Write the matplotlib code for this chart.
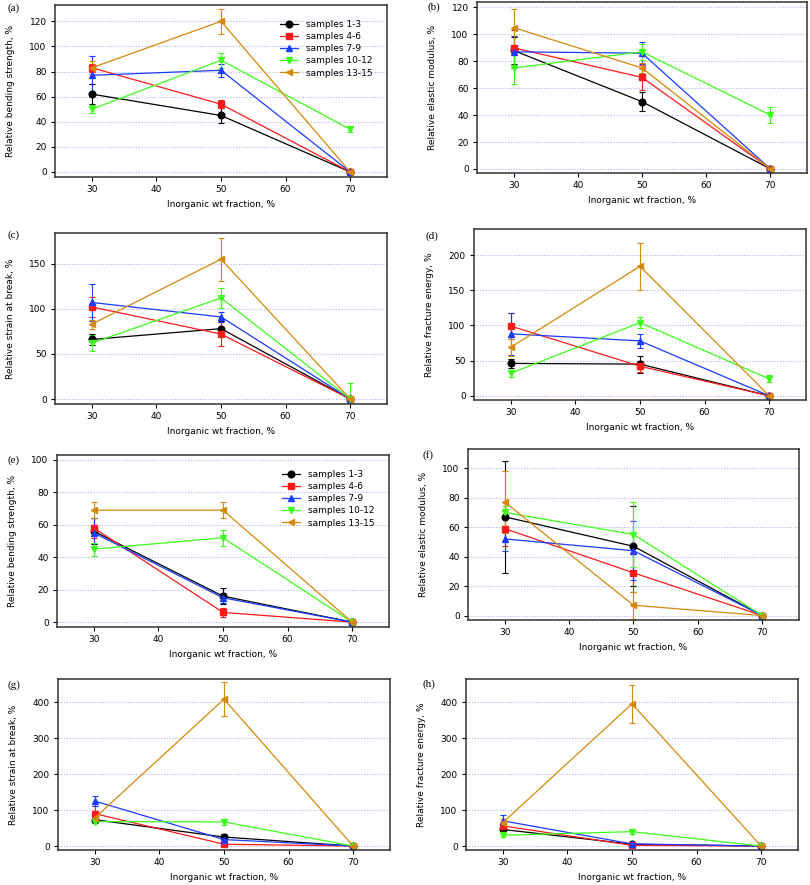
import matplotlib
matplotlib.use('Agg')
import matplotlib.pyplot as plt
from matplotlib.lines import Line2D

W, H = 810, 885

x = [30, 50, 70]
series_names = ['samples 1-3', 'samples 4-6', 'samples 7-9', 'samples 10-12', 'samples 13-15']
colors = ['#000000', '#ff1a1a', '#1a3cff', '#3cff1a', '#d4890a']
markers = ['o', 's', '^', 'v', '<']

# (a) bending strength
a_vals = [[62, 45, 0], [83, 54, 0], [77, 81, 0], [50, 89, 34], [83, 120, 0]]
a_errs = [[8, 6, 0], [3, 3, 0], [15, 5, 0], [3, 6, 2], [5, 10, 0]]
# (b) elastic modulus
b_vals = [[88, 50, 0], [90, 68, 0], [87, 86, 0], [75, 87, 40], [105, 75, 0]]
b_errs = [[10, 7, 0], [13, 9, 0], [12, 8, 0], [12, 6, 6], [14, 4, 0]]
# (c) strain at break
c_vals = [[66, 78, 0], [102, 72, 0], [107, 91, 0], [62, 112, 0], [83, 155, 0]]
c_errs = [[6, 8, 0], [11, 13, 0], [20, 6, 0], [9, 11, 18], [5, 24, 0]]
# (d) fracture energy
d_vals = [[46, 45, 0], [99, 42, 0], [88, 78, 0], [32, 104, 24], [69, 184, 0]]
d_errs = [[6, 12, 0], [18, 8, 0], [30, 10, 0], [5, 8, 5], [12, 33, 0]]
# (e) bending strength
e_vals = [[56, 16, 0], [58, 6, 0], [55, 15, 0], [45, 52, 0], [69, 69, 0]]
e_errs = [[8, 5, 0], [6, 3, 0], [9, 3, 0], [4, 5, 0], [5, 5, 0]]
# (f) elastic modulus
f_vals = [[67, 47, 0], [59, 29, 0], [52, 44, 0], [70, 55, 0], [77, 7, 0]]
f_errs = [[38, 27, 0], [12, 13, 0], [8, 20, 0], [4, 22, 0], [21, 9, 0]]
# (g) strain at break
g_vals = [[73, 25, 0], [90, 5, 0], [125, 18, 0], [68, 67, 0], [78, 408, 0]]
g_errs = [[5, 8, 0], [22, 3, 0], [15, 5, 0], [5, 8, 0], [8, 47, 0]]
# (h) fracture energy
h_vals = [[46, 5, 0], [56, 2, 0], [70, 6, 0], [30, 40, 0], [65, 395, 0]]
h_errs = [[5, 3, 0], [8, 2, 0], [15, 3, 0], [4, 6, 0], [10, 53, 0]]

ylab_bend = 'Relative bending strength, %'
ylab_mod = 'Relative elastic modulus, %'
ylab_strain = 'Relative strain at break, %'
ylab_energy = 'Relative fracture energy, %'
xlab = 'Inorganic wt fraction, %'

plt.rcParams['font.family'] = 'DejaVu Sans'
plt.rcParams['font.size'] = 6

fig = plt.figure(figsize=(W / 100, H / 100), dpi=100)


def px_axes(left, top, right, bottom):
    return fig.add_axes([left / W, 1 - bottom / H, (right - left) / W, (bottom - top) / H])


panels = [
    ('(a)', a_vals, a_errs, ylab_bend, (-4, 133), range(0, 121, 20), (55, 5, 387, 177), (8, 8), True),
    ('(b)', b_vals, b_errs, ylab_mod, (-3, 124), range(0, 121, 20), (477, 2, 807, 173), (428, 7), False),
    ('(c)', c_vals, c_errs, ylab_strain, (-5.5, 184), range(0, 151, 50), (55, 233, 387, 404), (8, 235), False),
    ('(d)', d_vals, d_errs, ylab_energy, (-6, 237), range(0, 201, 50), (474, 229, 806, 400), (425, 236), False),
    ('(e)', e_vals, e_errs, ylab_bend, (-3, 103), range(0, 101, 20), (57, 455, 389, 627), (8, 460), True),
    ('(f)', f_vals, f_errs, ylab_mod, (-3, 113), range(0, 101, 20), (468, 449, 799, 620), (422, 455), False),
    ('(g)', g_vals, g_errs, ylab_strain, (-11, 464), range(0, 401, 100), (58, 679, 390, 850), (8, 685), False),
    ('(h)', h_vals, h_errs, ylab_energy, (-11, 464), range(0, 401, 100), (466, 679, 798, 850), (422, 684), False),
]

for tag, vals, errs, ylabel, ylim, yticks, box, tagpos, show_legend in panels:
    ax = px_axes(*box)
    for v, e, c, m in zip(vals, errs, colors, markers):
        ax.errorbar(x, v, yerr=e, color=c, marker=m, markersize=4.8, linewidth=0.9,
                    elinewidth=0.8, capsize=2.5, capthick=0.8)
    ax.set_xlim(24.3, 75.7)
    ax.set_ylim(*ylim)
    ax.set_xticks([30, 40, 50, 60, 70])
    ax.set_yticks(list(yticks))
    ax.yaxis.grid(True, linestyle=(0, (1, 1.5)), color='#b4b4ec', linewidth=0.8)
    ax.set_axisbelow(True)
    for s in ax.spines.values():
        s.set_color('#333333')
        s.set_linewidth(1.1)
    ax.tick_params(direction='out', length=3, width=0.8, labelsize=6.5, pad=3)
    ax.set_ylabel(ylabel, fontsize=6.5)
    ax.set_xlabel(xlab, fontsize=6.5)
    ax.yaxis.set_label_coords(-0.12, 0.5)
    ax.xaxis.set_label_coords(0.5, -0.135)
    if show_legend:
        handles = [Line2D([], [], color=c, marker=m, markersize=4.8, linewidth=0.9)
                   for c, m in zip(colors, markers)]
        ax.legend(handles, series_names, loc='upper left', bbox_to_anchor=(0.66, 0.95),
                  frameon=False, fontsize=6.5, handlelength=2.0, labelspacing=0.35,
                  borderpad=0.2)
    fig.text(tagpos[0] / W, 1 - tagpos[1] / H, tag, family='Liberation Serif', fontsize=8,
             ha='left', va='center')

fig.savefig('out.png', dpi=100)
